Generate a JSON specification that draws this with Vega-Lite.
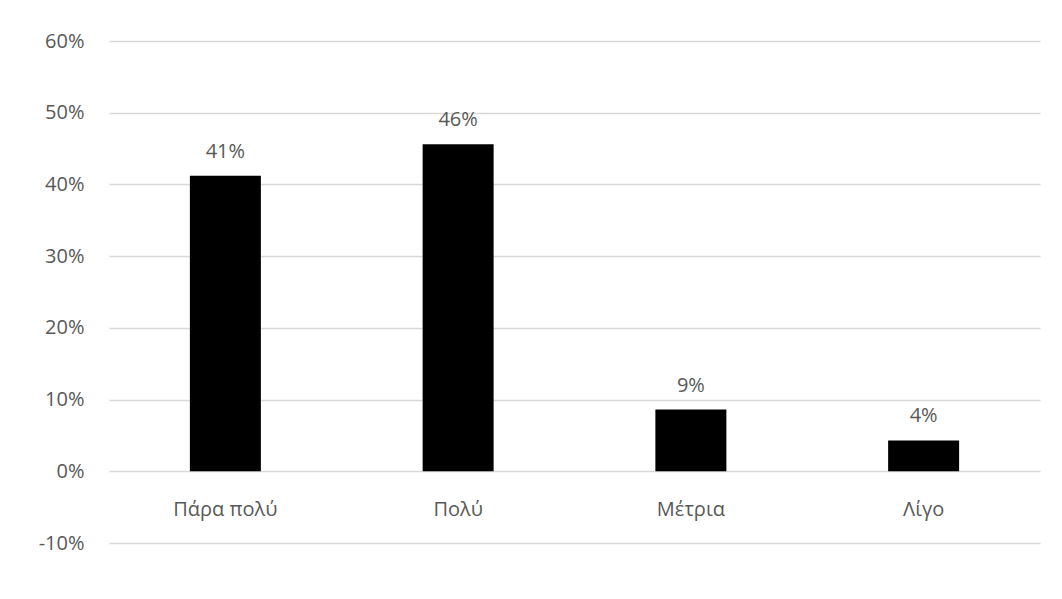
{
  "$schema": "https://vega.github.io/schema/vega-lite/v6.json",
  "width": 931,
  "height": 502,
  "autosize": {"type": "none"},
  "padding": {"left": 109, "top": 41, "right": 22, "bottom": 56},
  "background": "white",
  "config": {
    "view": {"stroke": null},
    "font": "Open Sans",
    "axis": {"labelFont": "Open Sans", "labelColor": "#595959", "labelFontSize": 20}
  },
  "data": {
    "values": [
      {"category": "Πάρα πολύ", "value": 0.412, "label": "41%"},
      {"category": "Πολύ", "value": 0.456, "label": "46%"},
      {"category": "Μέτρια", "value": 0.086, "label": "9%"},
      {"category": "Λίγο", "value": 0.043, "label": "4%"}
    ]
  },
  "encoding": {
    "x": {
      "field": "category",
      "type": "nominal",
      "sort": null,
      "scale": {"paddingInner": 0.695, "paddingOuter": 0.3475},
      "axis": {
        "title": null,
        "orient": "bottom",
        "offset": -72,
        "domain": false,
        "ticks": false,
        "grid": false,
        "labelAngle": 0,
        "labelPadding": 28,
        "labelBaseline": "top"
      }
    },
    "y": {
      "field": "value",
      "type": "quantitative",
      "scale": {"domain": [-0.1, 0.6], "nice": false, "zero": false},
      "axis": {
        "title": null,
        "format": ".0%",
        "labelExpr": "replace(datum.label, '−', '-')",
        "values": [-0.1, 0, 0.1, 0.2, 0.3, 0.4, 0.5, 0.6],
        "domain": false,
        "ticks": false,
        "grid": true,
        "gridColor": "#d9d9d9",
        "gridWidth": 1.3,
        "labelPadding": 25
      }
    }
  },
  "layer": [
    {"mark": {"type": "bar", "color": "#000000"}, "encoding": {"y2": {"datum": 0}}},
    {
      "mark": {"type": "text", "fontSize": 20, "color": "#595959", "baseline": "alphabetic", "dy": -18, "font": "Open Sans"},
      "encoding": {"text": {"field": "label"}}
    }
  ]
}
